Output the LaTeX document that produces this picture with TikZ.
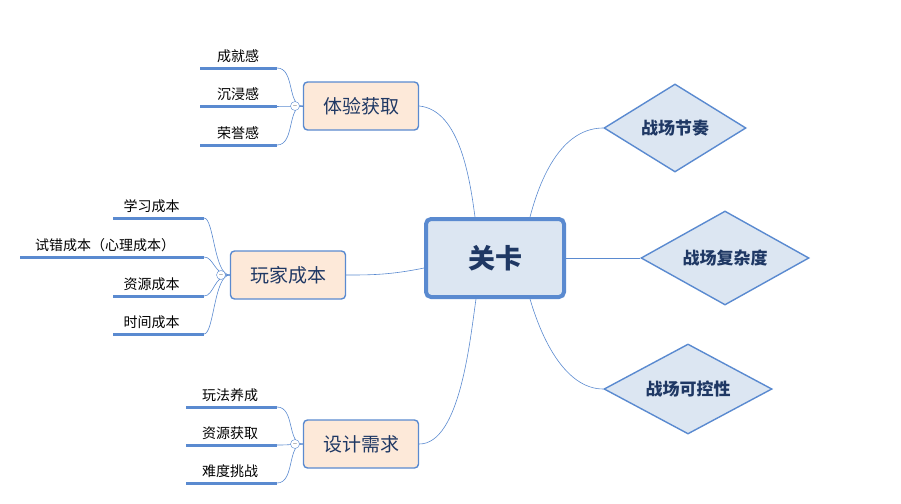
\documentclass[tikz,border=0pt]{standalone}
\usepackage{fontspec}
\setmainfont{Noto Sans CJK SC}
\usetikzlibrary{shapes.geometric}
\definecolor{linkblue}{HTML}{5A8AD0}
\definecolor{boxfill}{HTML}{DCE6F2}
\definecolor{peach}{HTML}{FDE9D9}
\definecolor{txt}{HTML}{1F3864}
\tikzset{
  root/.style={draw=linkblue, line width=4pt, rounded corners=5pt, fill=boxfill,
    minimum width=138pt, minimum height=78pt, font=\bfseries\fontsize{27}{29}\selectfont, text=txt},
  topic/.style={diamond, aspect=1.7, draw=linkblue, line width=1.4pt, fill=boxfill,
    inner sep=1pt, font=\bfseries\fontsize{17}{19}\selectfont, text=txt},
  sub/.style={draw=linkblue, line width=1.4pt, rounded corners=4pt, fill=peach,
    minimum width=115pt, minimum height=48pt, font=\fontsize{19}{21}\selectfont, text=txt},
  fold/.style={circle, draw=linkblue, fill=white, inner sep=0pt, minimum size=9pt},
  leaf/.style={draw=linkblue, line width=3pt},
  leaftext/.style={font=\fontsize{14}{16}\selectfont, anchor=south},
  link/.style={draw=linkblue, line width=0.6pt}
}
\begin{document}
\begin{tikzpicture}[x=1pt,y=-1pt]
  \useasboundingbox (0,0) rectangle (901,503);

  % main nodes
  \node[root] (gk) at (495,258) {关卡};
  \node[topic, minimum width=142pt, minimum height=88pt] (jz) at (675,128) {战场节奏};
  \node[topic, minimum width=168pt, minimum height=94pt] (fz) at (725,258) {战场复杂度};
  \node[topic, minimum width=168pt, minimum height=90pt] (kk) at (688,389) {战场可控性};
  \node[sub] (ty) at (361,106) {体验获取};
  \node[sub] (wj) at (288,275) {玩家成本};
  \node[sub] (sj) at (361,444) {设计需求};

  % links from root
  \draw[link] (gk.north)+(-20,0) .. controls (470,180) and (460,110) .. (ty.east);
  \draw[link] (gk.west)+(0,10) .. controls (390,275) and (370,275) .. (wj.east);
  \draw[link] (gk.south)+(-19,0) .. controls (470,340) and (460,444) .. (sj.east);
  \draw[link] (gk.north)+(35,0) .. controls (545,160) and (570,128) .. (jz.west);
  \draw[link] (gk.east) -- (fz.west);
  \draw[link] (gk.south)+(35,0) .. controls (545,350) and (570,389) .. (kk.west);

  % leaves
  \foreach \name/\txt/\y in {a/成就感/68, b/沉浸感/106, c/荣誉感/145}{
    \draw[leaf] (200,\y) -- (277,\y) coordinate (ty-\name);
    \node[leaftext] at (238,\y-2) {\txt};
    \draw[link] (ty.west) .. controls (287,106) and (295,\y) .. (ty-\name);
  }
  \node[fold] (f1) at (295,106) {\tiny$-$};

  \foreach \name/\txt/\y/\x in {a/学习成本/218/113, b/{试错成本（心理成本）}/257/20, c/资源成本/296/113, d/时间成本/334/113}{
    \draw[leaf] (\x,\y) -- (204,\y) coordinate (wj-\name);
    \node[leaftext] at ({(\x+190)/2},\y-2) {\txt};
    \draw[link] (wj.west) .. controls (214,275) and (214,\y) .. (wj-\name);
  }
  \node[fold] (f2) at (221,275) {\tiny$-$};

  \foreach \name/\txt/\y in {a/玩法养成/407, b/资源获取/445, c/难度挑战/483}{
    \draw[leaf] (186,\y) -- (277,\y) coordinate (sj-\name);
    \node[leaftext] at (230,\y-2) {\txt};
    \draw[link] (sj.west) .. controls (287,444) and (295,\y) .. (sj-\name);
  }
  \node[fold] (f3) at (295,444) {\tiny$-$};
\end{tikzpicture}
\end{document}
